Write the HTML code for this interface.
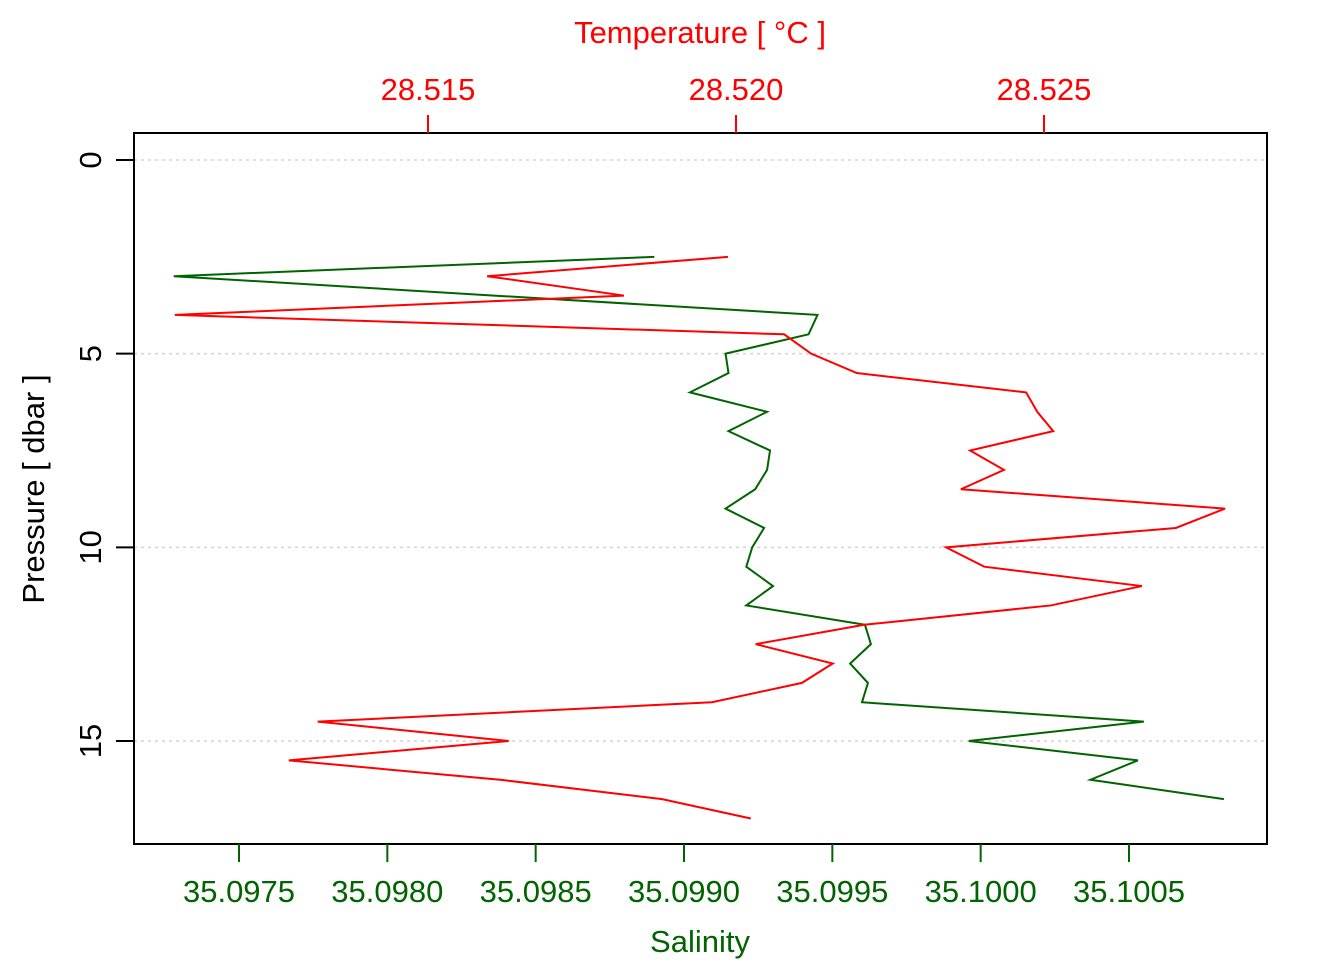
<!DOCTYPE html>
<html><head><meta charset="utf-8"><style>
html,body{margin:0;padding:0;background:#fff;}
svg text{font-family:"Liberation Sans",sans-serif;}
</style></head><body>
<svg id="chart" width="1344" height="960" xmlns="http://www.w3.org/2000/svg"></svg>
<script>
const pressureTicks=[0,5,10,15];
const salTicks=[35.0975,35.0980,35.0985,35.0990,35.0995,35.1000,35.1005];
const salTickLabels=["35.0975","35.0980","35.0985","35.0990","35.0995","35.1000","35.1005"];
const tempTicks=[28.515,28.520,28.525];
const tempTickLabels=["28.515","28.520","28.525"];
const salPressure=[2.5,3,3.5,4,4.5,5,5.5,6,6.5,7,7.5,8,8.5,9,9.5,10,10.5,11,11.5,12,12.5,13,13.5,14,14.5,15,15.5,16,16.5];
const salinity=[35.09890,35.09728,35.09836,35.09945,35.09942,35.09914,35.09915,35.09902,35.09928,35.09915,35.09929,35.09928,35.09924,35.09914,35.09927,35.09923,35.09921,35.09930,35.09921,35.09961,35.09963,35.09956,35.09962,35.09960,35.10055,35.09996,35.10053,35.10037,35.10082];
const tempPressure=[2.5,3,3.5,4,4.5,5,5.5,6,6.5,7,7.5,8,8.5,9,9.5,10,10.5,11,11.5,12,12.5,13,13.5,14,14.5,15,15.5,16,16.5,17];
const temperature=[28.51987,28.51596,28.51818,28.51089,28.52078,28.52122,28.52196,28.52471,28.52489,28.52515,28.52380,28.52435,28.52365,28.52794,28.52714,28.52341,28.52403,28.52659,28.52511,28.52208,28.52032,28.52157,28.52107,28.51961,28.51321,28.51631,28.51274,28.51617,28.51880,28.52024];

const NS="http://www.w3.org/2000/svg";
const svg=document.getElementById('chart');
const yP=p=>160+p*(741-160)/15;
const xS=s=>239+(s-35.0975)*(1129-239)/0.003;
const xT=t=>428+(t-28.515)*(1044-428)/0.010;
const RED="#ff0000",GREEN="#006400";
function mk(tag,attrs,parent){const e=document.createElementNS(NS,tag);for(const k in attrs)e.setAttribute(k,attrs[k]);(parent||svg).appendChild(e);return e;}

pressureTicks.forEach(p=>{
  const g=mk('line',{x1:134,x2:1267,y1:yP(p),y2:yP(p),stroke:'#d3d3d3','stroke-width':1.5,'stroke-dasharray':'3,4'});
  
  
});
const box=mk('rect',{x:134,y:133,width:1133,height:711,fill:'none',stroke:'#000','stroke-width':2});



pressureTicks.forEach(p=>{
  const y=yP(p);
  const t=mk('line',{x1:134,x2:116,y1:y,y2:y,stroke:'#000','stroke-width':2});
  
  
  const l=mk('text',{x:0,y:0,'font-size':31,'text-anchor':'middle',transform:`translate(101,${y}) rotate(-90)`});
  l.textContent=p;
  
  
});
salTicks.forEach((s,i)=>{
  const x=xS(s);
  const t=mk('line',{x1:x,x2:x,y1:844,y2:862,stroke:GREEN,'stroke-width':2});
  
  
  const l=mk('text',{x:x,y:902,'font-size':31,'text-anchor':'middle',fill:GREEN});
  l.textContent=salTickLabels[i];
  
  
});
tempTicks.forEach((s,i)=>{
  const x=xT(s);
  const t=mk('line',{x1:x,x2:x,y1:133,y2:115,stroke:RED,'stroke-width':2});
  
  
  const l=mk('text',{x:x,y:100,'font-size':31,'text-anchor':'middle',fill:RED});
  l.textContent=tempTickLabels[i];
  
  
});
let tt=mk('text',{x:700,y:43,'font-size':31,'text-anchor':'middle',fill:RED});
tt.textContent='Temperature [ °C ]';


let st=mk('text',{x:700,y:952,'font-size':31,'text-anchor':'middle',fill:GREEN});
st.textContent='Salinity';


let yt=mk('text',{x:0,y:0,'font-size':31,'text-anchor':'middle',transform:'translate(44,489) rotate(-90)'});
yt.textContent='Pressure [ dbar ]';



const sl=mk('polyline',{points:salinity.map((s,i)=>xS(s)+','+yP(salPressure[i])).join(' '),fill:'none',stroke:GREEN,'stroke-width':2});


const tl=mk('polyline',{points:temperature.map((t,i)=>xT(t)+','+yP(tempPressure[i])).join(' '),fill:'none',stroke:RED,'stroke-width':2});


</script>
</body></html>
